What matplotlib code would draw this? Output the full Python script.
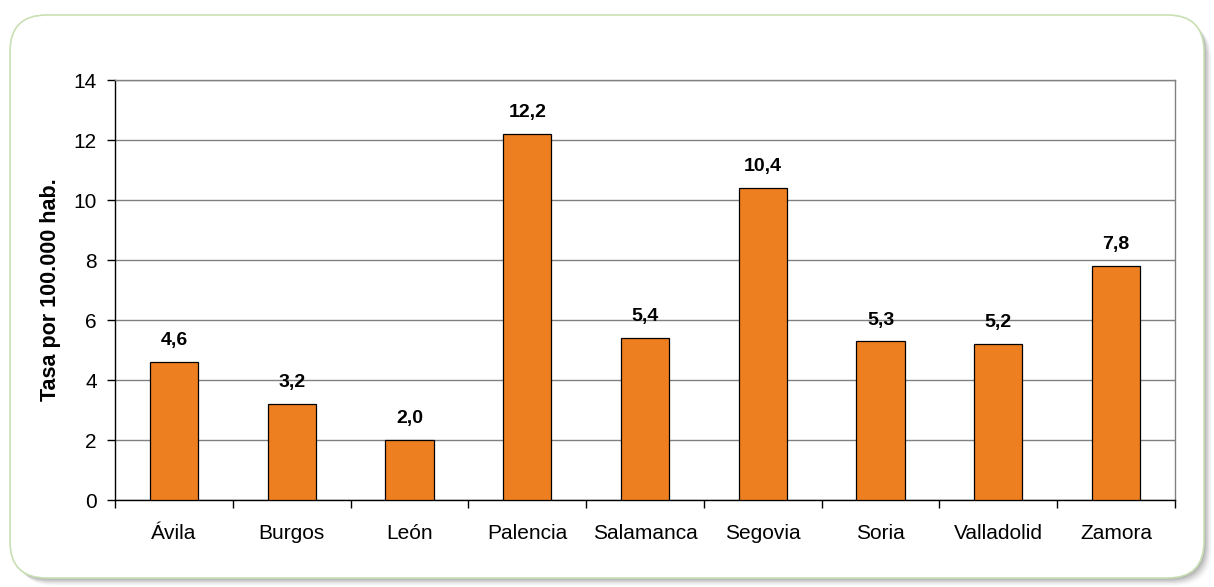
import matplotlib
matplotlib.use("Agg")
import matplotlib.pyplot as plt
from matplotlib.patches import FancyBboxPatch

plt.rcParams['font.family'] = ['Liberation Sans', 'DejaVu Sans']

provincias = ["Ávila", "Burgos", "León", "Palencia", "Salamanca",
              "Segovia", "Soria", "Valladolid", "Zamora"]
tasas = [4.6, 3.2, 2.0, 12.2, 5.4, 10.4, 5.3, 5.2, 7.8]
y_ticks = [0, 2, 4, 6, 8, 10, 12, 14]

W, H = 1214, 587
fig = plt.figure(figsize=(W / 100, H / 100), dpi=100)

# rounded frame with soft shadow towards the lower right
rs = 0.03
for i, a in enumerate([0.03, 0.05, 0.07, 0.09, 0.11, 0.13]):
    off = (6 - i) * 1.3
    sh = FancyBboxPatch(((10 + off) / W, (9 - off) / H), 1194 / W, 562 / H,
                        boxstyle=f"round,pad=0,rounding_size={rs}",
                        transform=fig.transFigure, facecolor="#404040",
                        edgecolor="none", alpha=a, mutation_aspect=W / H, zorder=0)
    fig.patches.append(sh)
frame = FancyBboxPatch((10 / W, 9 / H), 1194 / W, 563 / H,
                       boxstyle=f"round,pad=0,rounding_size={rs}",
                       transform=fig.transFigure, facecolor="white",
                       edgecolor="#c8e0b4", linewidth=1.2,
                       mutation_aspect=W / H, zorder=1)
fig.patches.append(frame)

ax = fig.add_axes([115 / W, 87 / H, 1060 / W, 420 / H])
ax.set_zorder(2)
ax.patch.set_alpha(0)

x = range(len(provincias))
ax.bar(x, tasas, width=0.41, color="#ee7f20", edgecolor="black",
       linewidth=0.9, zorder=3)

for xi, v in zip(x, tasas):
    ax.annotate(f"{v:.1f}".replace(".", ","), (xi, v), xytext=(0, 9),
                textcoords="offset points", ha="center", va="bottom",
                fontsize=14, fontweight="bold", zorder=4)

ax.set_ylim(0, 14)
ax.set_xlim(-0.5, len(provincias) - 0.5)
ax.set_yticks(y_ticks)
ax.set_yticklabels([str(t) for t in y_ticks], fontsize=15)
ax.yaxis.grid(True, color="#808080", linewidth=1.0, zorder=0)
ax.set_axisbelow(True)

ax.set_xticks(list(x))
ax.set_xticklabels(provincias, fontsize=15)
ax.tick_params(axis="x", which="major", length=0, pad=17)
ax.set_xticks([i - 0.5 for i in range(len(provincias) + 1)], minor=True)
ax.tick_params(axis="x", which="minor", length=6, width=1, direction="out")
ax.tick_params(axis="y", length=6, width=1, direction="out", pad=7)

for s in ["left", "bottom"]:
    ax.spines[s].set_color("black")
    ax.spines[s].set_linewidth(1.0)
for s in ["top", "right"]:
    ax.spines[s].set_color("#808080")
    ax.spines[s].set_linewidth(1.0)

ax.set_ylabel("Tasa por 100.000 hab.", fontsize=15.5, fontweight="bold",
              labelpad=9)

fig.savefig("out.png", dpi=100)
